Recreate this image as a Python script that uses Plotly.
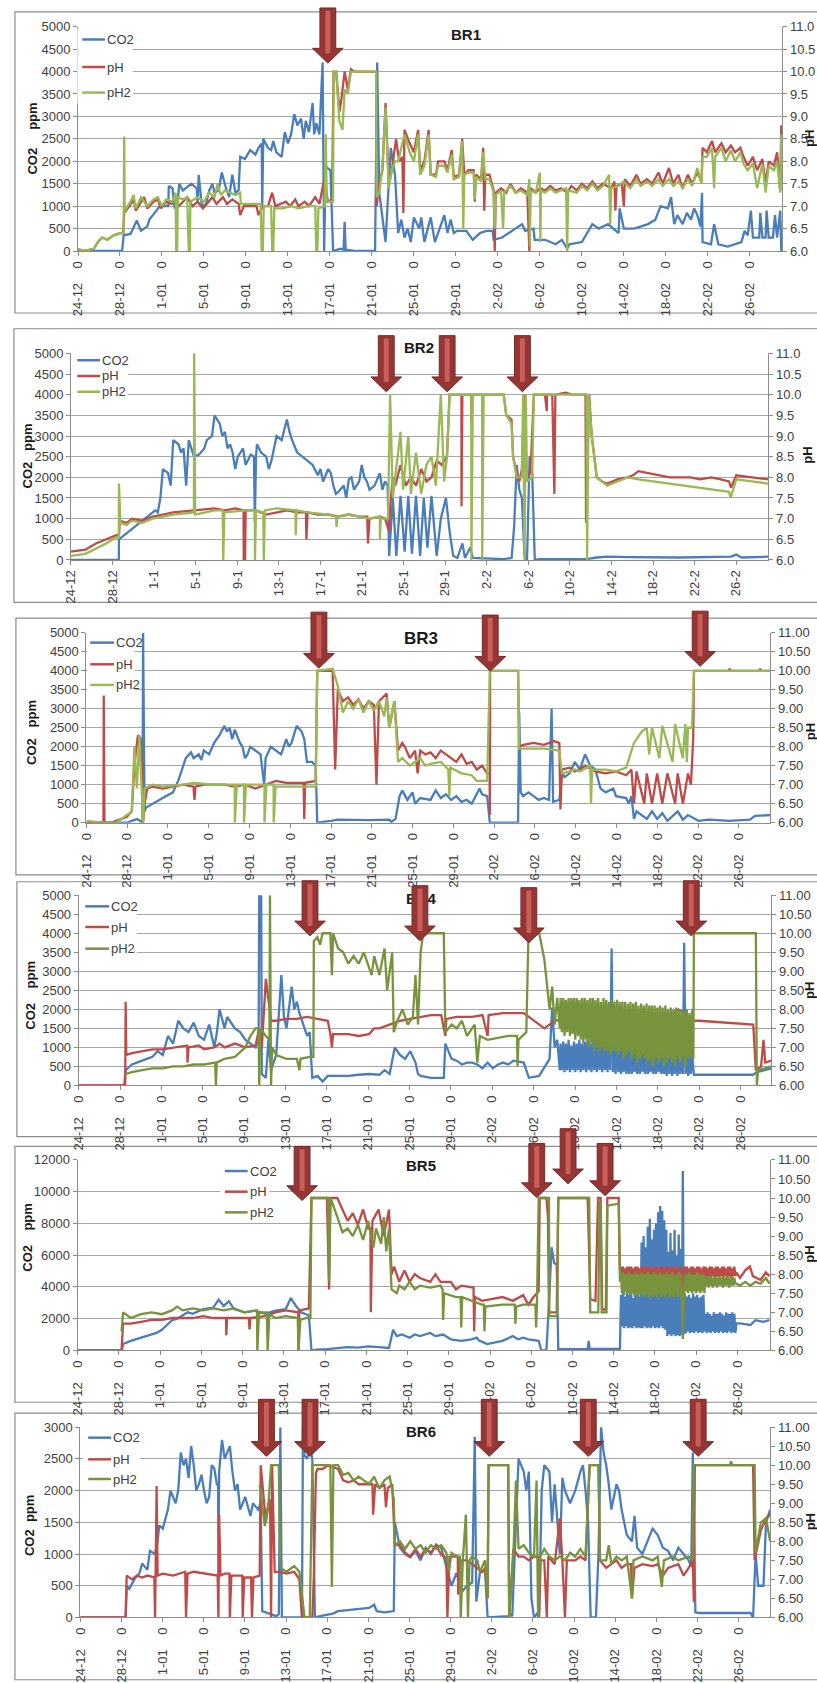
import plotly.graph_objects as go

W, H = 817, 1683
NB = "\u00a0"
FONT = "Liberation Sans Narrow, Arial Narrow, Liberation Sans, Arial, sans-serif"
TXT = "#404040"
GRID = "#A6A6A6"
AXC = "#8C8C8C"
BLUE = "#4A7EBB"
RED = "#BE4B48"
GREEN_L = "#98B954"
GREEN_D = "#77933C"
LW = 2.3

TICK_DAYS = [0, 4, 8, 12, 16, 20, 24, 28, 32, 36, 40, 44, 48, 52, 56, 60, 64]
DATES_A = ["24-12", "28-12", "1-01", "5-01", "9-01", "13-01", "17-01", "21-01", "25-01",
           "29-01", "2-02", "6-02", "10-02", "14-02", "18-02", "22-02", "26-02"]
DATES_B = ["24-12", "28-12", "1-1", "5-1", "9-1", "13-1", "17-1", "21-1", "25-1",
           "29-1", "2-2", "6-2", "10-2", "14-2", "18-2", "22-2", "26-2"]

# ---------------- BR1 ----------------
BR1_CO2 = [(0,0),(4.2,0),(4.35,350),(5,380),(5.6,680),(6,450),(6.6,550),(6.8,700),(7.3,850),(7.8,1000),(8.6,1000),(8.65,1450),(9.0,1400),(9.2,950),(9.5,1100),(9.65,1500),(10.0,1350),(10.8,1500),(11.3,1400),(11.4,1100),(11.5,1700),(11.8,1000),(12.2,1050),(12.5,1350),(12.8,1500),(13.0,1300),(13.4,1350),(13.7,1750),(14.1,1400),(14.4,1200),(14.7,1700),(15.0,1300),(15.3,1350),(15.45,2100),(15.9,2050),(16.4,2250),(16.9,2150),(17.2,2300),(17.5,2400),(17.55,1000),(17.65,2500),(18.1,2300),(18.4,2250),(18.6,2450),(18.9,2200),(19.4,2100),(19.7,2650),(20.0,2400),(20.3,2600),(20.6,3050),(20.9,2800),(21.25,2950),(21.5,2500),(21.7,2900),(22.0,2650),(22.35,3300),(22.5,2600),(22.7,2850),(23.0,2600),(23.3,4200),(23.45,0),(23.6,1900),(23.75,1850),(24.05,1800),(24.3,0),(25.0,50),(25.3,30),(25.4,650),(25.5,30),(26.5,0),(28.3,0),(28.5,4200),(28.7,1300),(29.0,700),(29.3,200),(29.6,1500),(29.8,2300),(30.2,1700),(30.5,400),(30.8,700),(31.1,300),(31.4,500),(31.7,200),(32.0,750),(32.5,500),(32.7,750),(33.0,200),(33.6,750),(34.0,200),(34.9,800),(35.2,400),(35.5,700),(35.8,400),(36.1,450),(37.0,450),(37.3,350),(37.6,250),(38.3,400),(38.9,450),(39.5,450),(39.6,250),(40.4,300),(41.4,450),(42.3,600),(42.6,450),(43.4,500),(43.5,250),(44.5,250),(45.5,150),(46.1,250),(46.6,50),(46.8,150),(48.0,200),(49.0,600),(49.6,500),(50.5,600),(51.5,400),(51.6,950),(52.0,500),(53.0,500),(54.3,600),(55.0,700),(55.5,1000),(56.2,950),(56.5,1200),(56.8,600),(57.1,800),(57.6,600),(58.0,850),(58.4,700),(58.7,950),(59.0,800),(59.3,550),(59.45,1300),(59.5,200),(60.3,150),(60.6,600),(61.0,150),(61.9,100),(62.6,150),(63.2,200),(63.5,450),(63.8,350),(64.1,900),(64.3,300),(64.9,300),(65.0,850),(65.2,300),(65.5,300),(65.6,900),(65.8,300),(66.2,300),(66.4,800),(66.6,300),(66.9,900),(67.0,0)]
BR1_PH = [(0,6.05),(0.5,6.0),(1.5,6.05),(1.9,6.2),(2.3,6.3),(2.8,6.25),(3.4,6.35),(4.0,6.4),(4.3,6.4),(4.4,6.85),(4.9,7.0),(5.3,7.15),(5.5,6.9),(6.0,7.1),(6.3,7.2),(6.6,6.95),(7.2,7.1),(7.6,7.15),(7.9,6.95),(8.4,7.1),(8.9,7.05),(9.3,7.15),(9.6,7.0),(10.0,7.1),(10.4,7.2),(10.9,7.0),(11.4,7.1),(11.9,6.95),(12.4,7.1),(12.8,7.2),(13.2,7.05),(13.8,7.2),(14.2,7.05),(14.7,7.15),(15.3,7.05),(15.45,6.8),(15.8,7.0),(16.5,7.0),(17.0,7.0),(17.2,6.8),(17.6,7.0),(18.1,7.0),(18.5,7.3),(18.8,7.0),(19.3,7.05),(19.8,7.1),(20.2,7.0),(20.7,7.15),(21.0,7.0),(21.6,7.1),(22.0,7.0),(22.6,7.2),(23.0,7.05),(23.5,7.65),(23.8,7.1),(24.2,7.15),(24.35,10.0),(24.6,10.0),(24.9,9.1),(25.1,9.4),(25.4,10.0),(25.7,9.6),(26.0,10.05),(26.3,10.0),(28.4,10.0),(28.45,7.0),(28.7,7.5),(29.0,7.8),(29.3,9.3),(29.6,7.5),(29.9,7.8),(30.3,8.5),(30.6,8.0),(30.9,8.1),(31.0,6.85),(31.1,8.7),(31.6,8.4),(32.0,8.2),(32.4,8.7),(32.6,7.8),(33.0,8.0),(33.4,8.7),(33.6,7.7),(34.1,7.7),(34.3,8.0),(34.9,8.0),(35.2,7.8),(35.6,8.25),(35.8,7.65),(36.3,7.7),(36.6,8.5),(36.8,7.7),(37.2,7.8),(37.7,7.8),(37.8,7.1),(37.9,7.7),(38.4,7.6),(38.6,8.3),(38.7,6.9),(38.8,7.7),(39.2,7.7),(39.6,7.35),(39.7,6.0),(39.8,7.3),(40.3,7.4),(40.8,7.3),(41.2,7.5),(41.7,7.3),(42.2,7.4),(42.8,7.3),(43.0,6.0),(43.1,7.4),(43.6,7.3),(44.0,7.4),(44.5,7.35),(45.0,7.45),(45.5,7.35),(46.0,7.4),(46.6,7.3),(47.0,7.45),(47.5,7.35),(48.0,7.5),(48.5,7.4),(49.0,7.55),(49.5,7.4),(50.0,7.5),(50.8,7.4),(51.1,7.55),(51.2,6.9),(51.3,7.45),(51.8,7.5),(52.0,7.0),(52.1,7.6),(52.6,7.45),(53.2,7.7),(53.6,7.5),(54.2,7.6),(54.7,7.5),(55.3,7.75),(55.7,7.5),(56.3,7.85),(56.7,7.5),(57.2,7.7),(57.6,7.4),(58.1,7.7),(58.5,7.5),(59.0,7.75),(59.4,7.55),(59.5,8.3),(59.9,8.2),(60.4,8.45),(60.7,8.2),(61.3,8.4),(61.7,8.2),(62.2,8.35),(62.6,8.2),(63.1,8.3),(63.4,8.1),(63.8,7.9),(64.3,8.1),(64.7,7.8),(65.2,8.05),(65.5,7.5),(65.8,8.0),(66.3,7.9),(66.6,8.2),(66.9,7.35),(67.0,8.8)]
BR1_PH2 = [(0,6.05),(0.5,6.0),(1.5,6.05),(1.9,6.2),(2.3,6.3),(2.8,6.25),(3.4,6.35),(4.0,6.4),(4.35,6.4),(4.4,8.55),(4.45,6.9),(5.0,7.1),(5.3,7.25),(5.5,6.95),(6.0,7.2),(6.3,7.1),(6.6,7.0),(7.2,7.15),(7.6,7.2),(8.0,7.0),(8.4,7.15),(9.0,7.1),(9.3,7.3),(9.35,6.0),(9.45,6.0),(9.5,7.2),(10.0,7.15),(10.4,7.2),(10.55,6.0),(10.65,6.0),(10.7,7.1),(11.4,7.2),(12.0,7.1),(12.5,7.3),(13.0,7.2),(13.3,7.5),(13.6,7.25),(14.0,7.35),(14.5,7.3),(15.0,7.25),(15.45,7.3),(15.5,7.05),(16.5,7.05),(17.4,7.05),(17.5,6.0),(17.6,6.0),(17.7,7.0),(18.4,7.0),(18.5,6.0),(18.6,6.0),(18.7,6.95),(19.5,6.95),(20.3,7.0),(21.0,6.95),(22.0,7.0),(22.6,7.0),(22.7,6.0),(22.8,6.0),(22.9,6.95),(23.5,7.0),(23.6,8.6),(23.7,7.1),(24.3,7.1),(24.35,10.0),(24.6,10.0),(24.9,8.9),(25.2,8.7),(25.4,9.6),(25.7,9.5),(26.0,10.0),(28.4,10.0),(28.45,7.2),(28.7,7.3),(29.0,7.9),(29.3,9.2),(29.6,7.4),(29.9,7.8),(30.2,8.0),(30.5,8.0),(31.1,8.6),(31.6,8.2),(32.0,8.0),(32.4,8.6),(32.6,7.7),(33.0,7.9),(33.4,8.6),(33.6,7.7),(34.1,7.65),(34.3,7.9),(34.9,7.9),(35.2,7.75),(35.6,8.15),(35.8,7.6),(36.3,7.65),(36.6,8.45),(36.7,6.5),(36.8,7.7),(37.2,7.75),(37.7,7.75),(37.8,7.15),(37.9,7.65),(38.4,7.55),(38.6,8.2),(38.8,7.6),(39.2,7.6),(39.6,7.3),(39.7,6.5),(39.8,7.25),(40.3,7.35),(40.5,6.5),(40.6,7.3),(41.2,7.45),(41.7,7.3),(42.2,7.35),(42.8,7.25),(43.0,7.6),(43.05,6.1),(43.1,7.35),(43.6,7.3),(44.0,7.75),(44.05,6.2),(44.1,7.35),(44.5,7.3),(45.0,7.4),(45.5,7.3),(46.0,7.35),(46.5,7.4),(46.6,6.0),(46.7,7.35),(47.5,7.3),(48.0,7.45),(48.5,7.35),(49.0,7.5),(49.5,7.35),(50.0,7.45),(50.6,7.7),(50.7,6.6),(50.8,7.4),(51.5,7.45),(52.0,7.55),(52.6,7.4),(53.2,7.6),(53.6,7.45),(54.2,7.55),(54.7,7.45),(55.3,7.6),(55.7,7.45),(56.3,7.6),(56.7,7.45),(57.2,7.55),(57.6,7.4),(58.1,7.6),(58.5,7.45),(59.0,7.85),(59.4,7.5),(59.5,8.1),(59.9,8.1),(60.4,8.3),(60.6,7.4),(60.7,8.1),(61.3,8.3),(61.7,8.0),(62.2,8.25),(62.6,8.0),(63.1,8.2),(63.4,7.95),(63.8,7.8),(64.3,7.95),(64.7,7.4),(65.2,7.95),(65.5,7.3),(65.8,7.9),(66.3,7.8),(66.6,8.0),(66.9,7.3),(67.0,8.6)]

# ---------------- BR2 ----------------
BR2_CO2 = [(0,0),(4.6,0),(4.62,500),(5.37,650),(6.36,850),(7.1,1000),(8.1,1200),(8.35,1150),(8.6,1500),(8.84,2200),(9.34,2100),(9.59,1800),(9.84,2900),(10.34,2800),(10.6,2600),(10.83,2700),(11.08,1800),(11.33,2900),(11.83,2500),(12.33,2550),(12.82,2700),(13.07,2900),(13.57,3000),(13.81,3500),(14.31,3300),(14.56,3000),(14.81,3100),(15.06,2700),(15.31,2800),(15.55,2600),(15.8,2200),(16.05,2500),(16.55,2700),(16.8,2300),(17.29,2550),(17.6,2500),(17.69,900),(17.8,2500),(17.89,2800),(18.29,2600),(18.78,2500),(19.03,2200),(19.28,2400),(19.78,3000),(20.27,2900),(20.77,3400),(21.02,3100),(21.27,2900),(21.76,2600),(22.26,2500),(22.76,2400),(23.25,2300),(23.75,2050),(24.0,2200),(24.25,1900),(24.75,2200),(25.0,2100),(25.24,1800),(25.49,1600),(25.74,1650),(26.24,1800),(26.48,1500),(26.73,1950),(26.98,2000),(27.23,1700),(27.73,1900),(27.97,2300),(28.22,2000),(28.47,1900),(28.72,1700),(29.21,1800),(29.71,2100),(29.96,1700),(30.21,1900),(30.46,1800),(30.61,100),(30.96,1500),(31.3,100),(31.7,1550),(32.1,200),(32.45,1550),(32.8,150),(33.19,1550),(33.59,100),(33.94,1500),(34.29,300),(34.68,1550),(35.18,100),(35.58,1000),(36.07,1500),(36.42,700),(36.77,100),(37.17,50),(37.66,400),(37.9,50),(38.41,300),(38.66,50),(41.63,20),(42.39,50),(42.63,800),(42.88,2300),(43.13,1700),(43.38,1500),(43.63,100),(43.87,0),(44.12,2500),(44.37,2100),(44.62,0),(45.1,20),(49.6,20),(50.58,60),(51.6,80),(53.6,70),(58.6,60),(63.5,80),(64.0,130),(64.5,60),(67.1,80)]
BR2_PH = [(0,6.2),(1.39,6.25),(2.39,6.4),(3.38,6.5),(4.37,6.6),(4.62,6.6),(4.7,6.95),(5.37,6.9),(5.86,7.0),(6.86,6.95),(7.85,7.05),(8.84,7.1),(9.84,7.15),(11.83,7.2),(13.81,7.25),(14.81,7.2),(15.8,7.25),(16.6,7.2),(16.62,6.0),(16.75,6.0),(16.8,7.2),(17.79,7.2),(18.78,7.1),(20.77,7.2),(21.76,7.15),(22.6,7.15),(22.65,6.5),(22.76,7.15),(23.75,7.1),(24.75,7.1),(25.74,7.05),(26.73,7.1),(27.73,7.05),(28.5,7.05),(28.57,6.4),(28.72,7.0),(29.71,7.05),(30.21,7.0),(30.6,6.7),(30.71,7.3),(30.96,8.0),(31.2,7.8),(31.7,8.3),(32.2,7.8),(32.7,8.0),(33.19,7.8),(33.7,8.2),(34.2,7.9),(34.68,8.0),(35.18,8.4),(35.67,8.3),(36.17,8.5),(36.42,10.0),(37.56,10.0),(37.57,7.3),(37.65,10.0),(38.5,10.0),(38.51,9.35),(38.6,10.0),(41.63,10.0),(41.88,9.5),(42.38,9.4),(42.53,8.5),(42.88,8.1),(43.13,7.9),(43.38,8.2),(43.6,10.0),(43.7,8.0),(44.2,8.1),(44.53,10.0),(45.6,10.0),(45.77,9.6),(45.8,10.0),(46.3,10.0),(46.5,7.6),(46.6,10.0),(47.6,10.05),(48.2,10.0),(49.5,10.0),(49.55,6.9),(49.85,10.0),(50.1,9.0),(50.58,8.0),(51.08,7.9),(51.58,7.85),(52.07,7.9),(52.57,7.95),(53.57,8.0),(54.06,8.05),(54.6,8.15),(55.6,8.1),(56.6,8.05),(57.6,8.0),(58.6,8.0),(59.6,8.0),(60.5,7.95),(61.6,8.0),(62.5,7.95),(63.3,7.9),(63.5,7.75),(64.0,8.05),(65.5,8.0),(67.1,7.95)]
BR2_PH2 = [(0,6.1),(1.39,6.15),(3.38,6.4),(4.37,6.55),(4.6,6.55),(4.62,7.85),(4.75,6.9),(5.37,6.85),(5.86,6.95),(6.86,6.9),(7.85,7.0),(8.84,7.05),(9.84,7.1),(11.83,7.15),(11.85,11.0),(11.95,7.1),(13.81,7.2),(14.6,7.2),(14.65,6.0),(14.75,7.15),(16.8,7.2),(17.69,7.2),(17.7,6.0),(17.8,7.2),(18.5,7.15),(18.55,6.0),(18.65,7.2),(19.78,7.25),(21.6,7.2),(21.62,6.6),(21.7,7.2),(22.76,7.15),(24.75,7.1),(25.5,7.05),(25.55,6.8),(25.6,7.05),(26.73,7.1),(27.73,7.05),(28.72,7.0),(29.71,7.05),(29.72,6.5),(29.8,7.0),(30.5,7.0),(30.7,10.0),(30.96,7.5),(31.7,9.1),(31.95,7.7),(32.45,9.0),(32.7,7.6),(33.19,8.6),(33.69,7.6),(34.19,8.3),(34.68,8.5),(35.1,7.8),(35.58,10.0),(35.9,7.9),(36.17,8.5),(36.42,10.0),(38.51,10.0),(38.52,6.0),(38.66,10.0),(39.55,10.0),(39.56,6.0),(39.7,10.0),(41.63,10.0),(41.88,9.5),(42.38,9.3),(42.53,8.5),(42.88,8.0),(43.38,8.0),(43.5,10.0),(43.63,6.0),(43.75,10.0),(43.87,7.9),(44.37,8.0),(44.53,10.0),(49.6,10.0),(49.65,6.0),(49.8,10.0),(50.1,9.0),(50.58,8.0),(51.08,7.9),(51.58,7.8),(52.57,7.9),(53.57,8.0),(54.6,7.95),(56.1,7.9),(57.6,7.85),(58.6,7.8),(60.1,7.75),(61.6,7.7),(63.3,7.65),(63.45,7.5),(64.0,7.95),(65.5,7.9),(67.1,7.85)]

# ---------------- BR3 ----------------
BR3_CO2 = [(0,0),(4.0,0),(4.45,50),(4.95,100),(5.25,50),(5.5,0),(5.56,5000),(5.7,300),(5.86,400),(6.47,500),(7.48,650),(8.49,800),(9.0,1100),(9.75,1700),(10.26,1850),(10.51,1700),(11.02,1800),(11.27,1650),(11.52,1900),(12.03,1800),(12.53,2100),(13.04,2300),(13.54,2550),(13.79,2400),(14.05,2500),(14.3,2200),(14.55,2450),(15.06,2100),(15.31,2000),(15.56,1700),(15.81,1800),(16.07,2000),(16.57,1900),(17.08,1800),(17.43,1000),(17.58,1700),(18.09,2000),(18.6,1900),(19.1,1800),(19.6,2200),(19.86,2000),(20.11,2100),(20.62,2550),(21.12,2400),(21.37,2200),(21.63,1600),(22.13,1600),(22.49,1500),(22.64,0),(24.0,50),(24.66,80),(27.7,70),(29.71,80),(29.9,20),(30.32,100),(30.72,700),(30.98,850),(31.48,600),(31.99,800),(32.24,500),(32.74,650),(33.75,600),(34.26,850),(34.76,650),(35.27,750),(35.78,600),(36.28,700),(36.79,550),(37.29,600),(37.8,500),(38.3,750),(38.56,900),(38.81,750),(39.31,700),(39.57,0),(42.34,0),(42.45,2900),(42.6,800),(42.85,700),(43.36,800),(43.86,700),(44.37,600),(44.87,650),(45.38,600),(45.63,3000),(45.78,550),(46.39,600),(46.64,1300),(46.9,1200),(47.4,1300),(47.9,1600),(48.41,1400),(48.91,1800),(49.42,1500),(49.92,1400),(50.43,900),(50.93,800),(51.69,900),(51.95,700),(52.95,650),(53.2,500),(53.46,700),(53.71,100),(53.96,300),(54.97,100),(55.48,300),(55.99,100),(56.49,250),(56.99,50),(58.0,300),(58.51,80),(59.01,200),(60.03,50),(61.04,80),(63.06,50),(65.08,80),(65.59,180),(66.6,200),(67.1,200)]
BR3_PH = [(0,6.0),(1.67,6.0),(1.7,9.35),(1.77,6.0),(2.43,6.0),(2.93,6.05),(3.94,6.15),(4.45,6.3),(4.7,7.5),(5.05,8.3),(5.36,8.2),(5.56,6.0),(5.71,6.5),(5.96,6.9),(6.47,6.95),(7.48,6.9),(8.49,6.95),(9.5,7.0),(10.5,6.95),(10.6,6.6),(10.7,6.95),(11.52,7.0),(12.53,7.0),(13.54,7.0),(14.55,6.95),(15.56,7.0),(16.57,6.9),(17.58,7.0),(18.6,7.1),(19.6,7.05),(20.62,7.05),(21.3,7.05),(21.37,6.1),(21.45,7.05),(22.49,7.1),(22.64,10.0),(24.15,10.0),(24.4,7.4),(24.66,9.5),(25.16,9.2),(25.67,9.3),(26.17,9.1),(26.68,9.25),(27.18,9.0),(27.69,9.2),(28.19,9.1),(28.45,7.0),(28.7,9.2),(29.45,9.4),(29.71,8.5),(30.21,9.2),(30.57,7.9),(30.98,8.1),(31.23,8.0),(31.73,7.7),(32.24,7.9),(32.49,7.3),(32.74,7.9),(33.25,7.8),(33.75,7.85),(34.26,7.7),(34.76,7.9),(35.27,7.8),(35.78,7.7),(36.28,7.6),(36.79,7.8),(37.29,7.55),(37.8,7.6),(38.3,7.4),(38.81,7.5),(39.31,7.3),(39.55,7.3),(39.57,6.2),(39.6,10.0),(42.34,10.0),(42.45,8.0),(42.85,8.05),(43.86,8.1),(44.87,8.05),(45.88,8.15),(46.39,8.1),(46.5,6.35),(46.64,7.4),(47.4,7.45),(47.9,7.35),(48.41,7.4),(48.91,7.5),(49.92,7.35),(50.93,7.3),(51.95,7.35),(52.95,7.25),(53.46,7.4),(53.71,6.5),(53.96,7.35),(54.72,6.5),(54.97,7.3),(55.48,6.5),(55.99,7.3),(56.49,6.5),(56.99,7.3),(57.75,6.5),(58.0,7.3),(58.51,6.5),(59.01,7.3),(59.3,7.0),(59.52,8.2),(59.6,10.0),(63.0,10.0),(63.1,10.05),(63.2,10.0),(66.0,10.0),(66.1,10.05),(66.2,10.0),(67.1,10.0)]
BR3_PH2 = [(0,6.05),(1.67,6.0),(2.93,6.0),(4.45,6.3),(4.7,8.0),(4.95,6.9),(5.2,8.3),(5.56,6.0),(5.71,6.9),(6.47,7.0),(7.48,6.95),(9.5,7.0),(10.51,7.05),(12.53,7.0),(14.55,7.0),(14.56,6.0),(14.75,7.0),(15.45,7.0),(15.46,6.0),(15.65,7.0),(16.57,7.0),(17.46,7.0),(17.47,6.0),(17.65,7.0),(18.36,7.0),(18.37,6.0),(18.56,6.95),(20.62,6.95),(22.49,6.95),(22.64,10.0),(24.15,10.05),(24.66,9.6),(25.16,8.9),(25.67,9.2),(26.17,9.0),(26.68,9.25),(27.18,8.9),(27.69,9.2),(28.19,8.95),(28.7,9.2),(29.21,8.8),(29.45,9.3),(29.71,8.5),(30.21,9.2),(30.57,7.6),(30.98,7.7),(31.73,7.5),(32.24,7.6),(32.74,7.7),(33.25,7.5),(33.75,7.55),(34.76,7.6),(35.5,7.4),(35.6,6.7),(35.7,7.45),(36.79,7.3),(37.8,7.25),(38.3,7.1),(39.31,7.1),(39.57,10.0),(42.34,10.0),(42.45,7.95),(43.36,7.95),(44.87,7.95),(46.39,7.9),(46.64,7.3),(47.4,7.35),(47.9,7.4),(48.41,7.35),(49.42,7.5),(49.5,6.5),(49.6,7.4),(50.93,7.4),(51.95,7.35),(52.95,7.45),(53.71,8.1),(54.47,8.4),(54.97,8.5),(55.2,7.8),(55.48,8.5),(56.2,7.7),(56.49,8.55),(57.5,7.6),(57.75,8.6),(58.5,7.7),(58.75,8.6),(58.9,7.6),(59.01,8.5),(59.4,8.5),(59.6,10.0),(67.1,10.0)]

# ---------------- BR4 ----------------
BR4_CO2 = [(0,0),(4.4,0),(4.54,400),(5.14,550),(6.13,650),(7.13,750),(7.63,900),(8.13,800),(8.63,1300),(9.13,1100),(9.63,1700),(10.12,1500),(10.62,1400),(11.12,1650),(11.62,1300),(12.12,1200),(12.62,1600),(13.12,1000),(13.37,1400),(13.62,2000),(14.11,1500),(14.36,1800),(14.61,1700),(15.11,1500),(15.61,1400),(16.11,1200),(16.61,1100),(17.11,1000),(17.4,1200),(17.46,5000),(17.65,5000),(17.71,300),(18.1,200),(18.35,1200),(18.6,400),(19.1,800),(19.6,2900),(19.85,1800),(20.1,1500),(20.6,2600),(20.85,2000),(21.1,2200),(21.35,1900),(21.6,1700),(21.85,1500),(22.09,1300),(22.34,1400),(22.59,200),(23.09,250),(23.59,100),(24.09,250),(25.09,250),(26.08,250),(27.08,280),(28.08,300),(29.08,280),(29.58,400),(30.07,300),(30.57,1000),(31.07,800),(31.57,700),(32.07,900),(32.57,600),(32.82,300),(33.07,250),(34.06,200),(35.31,200),(35.46,1100),(36.06,700),(36.56,650),(37.06,550),(37.56,600),(38.05,600),(38.55,550),(39.05,450),(39.55,600),(40.05,450),(40.55,550),(41.05,600),(41.55,550),(42.04,650),(43.04,600),(43.54,200),(44.54,250),(45.29,600),(45.54,700),(45.79,2050),(46.03,1000),(46.28,1200),(46.53,400),(59.5,280),(60.0,280),(65.2,280),(65.6,350),(66.2,400),(67.0,450)]
# dense logger section, sampled every 0.13 day from day 46.6
BR4_CO2_DENSE = (46.6, 0.13, [1100,400,1150,350,1100,400,1200,350,1050,400,1150,350,1100,400,1200,350,1100,400,1150,350,
                              1200,400,1100,350,1250,400,1200,350,1300,400,1150,350,1200,400,1100,350,1250,400,3600,350,
                              1150,300,1100,350,1050,300,1100,350,1000,300,1050,300,950,300,1000,350,1100,300,950,300,
                              1000,350,900,300,1050,300,950,350,1000,300,900,300,950,350,1000,300,900,300,950,250,
                              900,300,950,250,900,300,850,250,900,300,950,300,3750,300,900,250,850,300,800])
BR4_PH = [(0,6.0),(4.5,6.0),(4.54,8.2),(4.6,6.8),(5.14,6.85),(6.13,6.9),(7.13,6.95),(8.13,6.95),(9.13,7.0),(10.12,7.05),(10.5,7.05),(10.52,6.6),(10.62,7.0),(11.62,7.05),(12.12,6.95),(13.12,7.0),(13.62,7.1),(14.11,7.0),(15.11,7.1),(16.11,7.0),(17.11,7.05),(17.46,7.5),(17.71,7.0),(18.1,8.8),(18.6,7.7),(19.1,7.7),(20.1,7.75),(21.1,7.75),(22.09,7.8),(23.09,7.75),(24.09,7.7),(24.34,7.35),(24.49,7.0),(24.6,7.35),(26.08,7.35),(27.08,7.3),(28.08,7.35),(28.58,7.5),(29.08,7.5),(30.07,7.6),(31.07,7.7),(32.07,7.75),(33.07,7.8),(34.06,7.85),(35.06,7.85),(35.46,7.3),(35.56,7.75),(36.56,7.8),(38.05,7.8),(39.05,7.85),(39.55,7.3),(39.65,7.85),(41.05,7.9),(42.54,7.9),(43.04,7.9),(43.54,7.8),(44.54,7.6),(45.04,7.5),(45.54,7.6),(46.03,7.7),(47.0,7.75),(48.0,7.8),(50.5,7.75),(51.0,7.8),(53.0,7.8),(55.0,7.85),(57.5,7.9),(58.0,8.0),(59.5,7.7),(60.0,7.7),(63.0,7.65),(65.24,7.6),(65.49,6.4),(66.0,6.5),(66.23,7.2),(66.4,6.6),(67.0,6.65)]
BR4_PH2 = [(4.5,6.3),(5.14,6.35),(6.13,6.4),(7.13,6.45),(8.13,6.45),(9.13,6.5),(10.12,6.5),(11.12,6.55),(12.12,6.55),(13.12,6.6),(13.2,6.6),(13.27,6.0),(13.35,6.6),(14.11,6.7),(15.11,6.75),(16.11,7.0),(16.61,7.3),(17.11,7.5),(17.4,7.5),(17.46,6.0),(17.55,7.5),(18.1,7.3),(18.45,7.2),(18.5,11.0),(18.6,6.0),(18.7,7.0),(19.1,6.8),(20.1,6.7),(21.1,6.7),(21.35,6.4),(21.45,6.7),(22.34,6.75),(22.7,6.75),(22.74,9.8),(23.09,9.9),(23.34,9.7),(23.59,10.0),(24.34,10.0),(24.49,8.9),(24.6,10.0),(25.09,9.6),(25.58,9.5),(26.08,9.2),(26.58,9.4),(27.08,9.2),(27.58,9.5),(28.08,9.1),(28.33,8.9),(28.58,9.4),(29.08,8.9),(29.58,9.6),(29.83,8.5),(30.32,9.5),(30.47,7.4),(30.82,7.7),(31.32,8.0),(31.82,7.6),(32.32,7.8),(32.57,8.9),(32.82,7.6),(33.07,9.5),(33.32,10.0),(35.31,10.0),(35.46,7.4),(36.06,7.6),(36.56,7.5),(37.06,7.7),(37.56,7.3),(38.05,7.5),(38.3,7.6),(38.55,6.6),(38.8,7.3),(39.55,7.2),(40.55,7.25),(41.55,7.3),(42.4,7.3),(42.44,6.5),(42.54,7.2),(43.29,7.4),(43.5,10.0),(44.54,10.0),(45.04,9.3),(45.29,8.6),(45.54,8.0),(45.79,8.6),(46.03,7.6),(46.28,8.3),(46.53,7.5),(59.45,6.7),(59.5,10.0),(65.49,10.0),(65.59,6.0),(65.7,6.4),(67.0,6.5)]
BR4_PH2_DENSE = (46.6, 0.13, [8.3,7.4,8.3,7.3,8.25,7.4,8.3,7.3,8.3,7.35,8.3,7.2,8.3,7.3,8.25,7.2,8.3,7.1,8.3,7.2,
                              8.25,7.0,8.3,7.1,8.3,6.9,8.25,7.0,8.3,6.9,8.2,7.0,8.3,6.9,8.25,6.9,8.2,6.8,8.25,6.9,
                              8.2,6.9,8.25,6.8,8.2,6.9,8.2,6.7,8.2,6.8,8.15,6.9,8.2,6.7,8.15,6.8,8.2,6.6,8.1,6.7,
                              8.15,6.8,8.1,6.7,8.15,6.6,8.1,6.7,8.1,6.5,8.1,6.7,8.05,6.6,8.1,6.7,8.05,6.5,8.1,6.6,
                              8.0,6.7,8.05,6.6,8.0,6.5,8.05,6.7,8.0,6.6,8.0,6.7,7.95,6.5,8.0,6.7,7.9,6.8,8.0])

# ---------------- BR5 ----------------
BR5_CO2 = [(0,0),(4.3,0),(4.41,400),(5.16,600),(6.16,800),(7.16,1000),(7.66,1100),(8.16,1300),(8.66,1600),(9.16,1900),(9.66,2000),(10.17,2200),(10.67,2400),(11.17,2300),(12.17,2600),(13.17,2700),(13.67,3200),(14.17,2800),(14.67,3100),(15.17,2600),(16.17,2400),(17.18,2500),(18.18,2300),(19.18,2500),(20.18,2600),(20.68,3300),(21.18,2800),(21.68,2400),(22.43,2200),(22.68,0),(23.18,50),(24.18,80),(25.19,150),(26.19,200),(27.19,180),(28.19,250),(29.19,200),(30.2,150),(30.6,1300),(30.95,900),(31.45,1000),(32.2,800),(32.7,1000),(33.2,900),(34.2,1100),(34.7,900),(35.45,1000),(36.2,700),(37.21,600),(38.21,700),(38.71,800),(38.96,600),(39.21,550),(39.71,400),(41.21,600),(42.21,900),(42.71,700),(43.21,800),(43.72,700),(44.72,600),(44.97,0),(45.47,0),(45.72,3000),(45.97,6500),(46.22,5500),(46.47,5400),(46.62,0),(46.72,100),(48.22,80),(49.47,100),(49.57,600),(49.67,100),(52.48,100),(52.6,100),(63.9,1700),(64.25,1700),(65.25,1600),(65.75,1900),(66.5,1800),(67.1,1900)]
BR5_CO2_DENSE = (52.7, 0.1, [3500,1500,3700,1400,3400,1500,3800,1400,3500,1450,3700,1400,3300,1500,3800,1400,3600,1450,3400,1400,
                             6800,1400,7200,1500,6500,1400,7800,1450,8300,1400,7000,1500,7600,1400,8000,1450,8700,1400,9100,1500,
                             8800,1400,8200,1300,7600,900,6200,1000,7400,900,6300,1000,7600,900,6000,950,7300,900,6400,1000,
                             11300,1000,3600,1100,3400,1200,3500,1100,3300,1150,3600,1100,3400,1200,3500,1100,3300,1150,3400,1100,
                             3500,1200,2300,1100,2400,1150,2300,1100,2200,1200,2400,1100,2300,1150,2300,1100,2400,1200,2300,1100,
                             2200,1150,2400,1100,2300,1200,2300,1100,2400,1150,2300,1100])
BR5_PH = [(0,6.0),(4.26,6.0),(4.41,6.7),(5.16,6.7),(6.16,6.75),(7.16,6.8),(8.16,6.8),(9.16,6.85),(10.17,6.85),(11.17,6.85),(12.17,6.9),(13.17,6.85),(14.17,6.85),(14.4,6.85),(14.42,6.4),(14.5,6.85),(16.17,6.85),(16.6,6.85),(16.68,6.55),(16.75,6.85),(18.18,6.9),(19.18,7.0),(20.18,7.05),(21.18,7.0),(21.4,7.0),(21.43,6.0),(21.5,7.05),(22.43,7.1),(22.68,10.0),(24.18,10.0),(24.39,7.6),(24.5,10.0),(25.19,10.0),(25.69,9.7),(26.19,9.4),(26.69,9.6),(27.19,9.3),(27.69,9.7),(28.19,9.2),(28.4,9.2),(28.44,7.0),(28.6,9.4),(29.19,9.7),(29.69,9.0),(30.2,9.7),(30.45,8.0),(30.7,8.2),(31.2,7.8),(31.7,8.1),(32.2,7.8),(32.7,8.0),(33.2,7.9),(34.2,7.8),(34.7,8.0),(35.2,7.8),(36.2,7.8),(36.7,7.6),(37.21,7.7),(38.21,7.65),(38.4,7.65),(38.46,6.5),(38.55,7.4),(39.21,7.3),(40.21,7.35),(41.21,7.4),(42.21,7.3),(43.21,7.45),(43.72,7.2),(44.22,7.4),(44.72,7.55),(44.82,10.0),(45.47,10.0),(45.62,9.5),(45.72,7.0),(46.47,7.0),(46.62,10.0),(49.47,10.0),(49.57,9.0),(49.72,7.35),(50.23,7.3),(50.48,10.0),(50.73,10.0),(50.88,7.1),(51.23,7.05),(51.38,10.0),(52.48,10.0),(52.6,8.1),(63.9,8.05),(64.25,7.9),(64.75,8.1),(65.2,8.2),(65.5,7.95),(66.25,7.85),(66.75,8.05),(67.1,7.95)]
BR5_PH_DENSE = (52.7, 0.1, [8.2,7.95,8.2,7.9,8.15,7.95,8.2,7.95,8.2,7.9,8.2,7.95,8.15,7.9,8.2,7.95,8.2,7.9,8.15,7.95,
                            8.2,7.9,8.2,7.95,8.15,7.9,8.2,7.95,8.2,7.9,8.15,7.95,8.2,7.9,8.2,7.95,8.15,7.9,8.2,7.95,
                            8.2,7.9,8.15,7.95,8.2,7.9,8.2,7.95,8.15,7.9,8.2,7.95,8.2,7.9,8.15,7.95,8.2,7.9,8.2,7.95,
                            6.6,7.95,8.2,7.9,8.2,7.95,8.15,7.9,8.2,7.95,8.2,7.9,8.15,7.95,8.2,7.9,8.2,7.95,8.15,7.9,
                            8.2,7.95,8.2,7.9,8.15,7.95,8.2,7.9,8.2,7.95,8.15,7.9,8.2,7.95,8.2,7.9,8.15,7.95,8.2,7.9,
                            8.2,7.95,8.15,7.9,8.2,7.95,8.2,7.9,8.15,7.95,8.2,7.95])
BR5_PH2 = [(4.26,6.5),(4.41,7.0),(5.16,6.85),(6.16,6.95),(7.16,7.0),(8.16,6.95),(9.16,7.05),(9.66,7.15),(10.17,7.05),(11.17,7.1),(12.17,7.05),(13.17,7.1),(14.17,7.05),(15.17,7.1),(16.17,7.0),(17.4,7.05),(17.43,6.0),(17.6,7.0),(18.35,7.0),(18.43,6.0),(18.6,6.95),(19.18,6.85),(20.18,6.9),(21.35,6.85),(21.43,6.0),(21.6,6.8),(22.2,6.85),(22.58,6.85),(22.68,10.0),(24.29,10.0),(24.39,7.8),(24.54,10.0),(25.19,9.5),(25.69,9.1),(26.19,9.2),(26.69,9.0),(27.19,9.3),(27.69,8.9),(28.19,9.4),(28.69,8.7),(28.94,9.2),(29.44,8.8),(29.69,9.5),(29.94,8.6),(30.2,9.2),(30.45,7.6),(30.95,7.5),(31.2,7.7),(31.7,7.6),(32.2,7.8),(32.7,7.6),(33.2,7.7),(34.2,7.65),(35.2,7.7),(35.4,7.6),(35.45,6.8),(35.55,7.5),(36.7,7.4),(37.15,7.4),(37.21,6.6),(37.3,7.4),(38.21,7.3),(39.21,7.2),(39.4,7.2),(39.46,6.5),(39.55,7.15),(41.21,7.2),(42.21,7.2),(42.4,7.2),(42.46,6.7),(42.55,7.15),(43.21,7.2),(44.22,7.2),(44.4,7.2),(44.47,6.6),(44.55,7.2),(44.72,10.0),(45.72,10.0),(45.75,6.9),(46.52,6.9),(46.62,10.0),(49.62,10.0),(49.72,7.0),(50.5,7.0),(50.63,9.9),(50.73,9.9),(50.83,7.0),(51.3,7.0),(51.38,9.8),(52.48,9.85),(52.6,7.8),(63.9,7.75),(64.25,7.7),(64.75,7.8),(65.25,7.7),(65.75,7.8),(66.25,7.75),(66.75,7.9),(67.1,7.75)]
BR5_PH2_DENSE = (52.7, 0.1, [8.0,7.5,8.05,7.45,8.0,7.55,8.0,7.5,8.05,7.45,8.0,7.5,8.0,7.45,8.05,7.5,8.0,7.4,8.0,7.5,
                             8.05,7.45,8.0,7.4,8.0,7.5,8.05,7.4,8.0,7.45,8.0,7.4,8.05,7.45,8.0,7.4,8.0,7.5,8.05,7.4,
                             8.0,7.45,8.0,7.4,8.05,7.5,8.0,7.4,8.0,7.45,8.05,7.4,8.0,7.5,8.0,7.4,8.05,7.45,8.0,7.4,
                             6.3,7.5,8.0,7.55,8.0,7.5,8.05,7.55,8.0,7.5,8.0,7.55,8.0,7.5,8.05,7.55,8.0,7.5,8.0,7.55,
                             8.0,7.5,7.95,7.7,7.95,7.65,7.95,7.7,7.9,7.65,7.95,7.7,7.95,7.65,7.9,7.7,7.95,7.7,7.9,7.65,
                             7.95,7.7,7.9,7.7,7.95,7.65,7.9,7.7,7.95,7.7,7.9,7.75])

# ---------------- BR6 ----------------
BR6_CO2 = [(0,0),(4.41,0),(4.51,500),(4.76,450),(5.26,600),(5.76,700),(6.02,850),(6.52,750),(6.77,1050),(7.27,1000),(7.52,1200),(7.67,1450),(8.02,1400),(8.52,1700),(8.77,2000),(9.02,1900),(9.27,1800),(9.52,2000),(9.77,2600),(10.03,2400),(10.28,2500),(10.53,2200),(10.78,2700),(11.03,2400),(11.28,2000),(11.53,2100),(11.78,2250),(12.03,2000),(12.28,1800),(12.53,1900),(12.78,2400),(13.03,2350),(13.28,2100),(13.4,2100),(13.43,600),(13.5,2300),(13.78,2800),(14.04,2500),(14.54,2700),(14.79,2300),(15.04,2000),(15.29,2100),(15.54,1700),(15.79,1800),(16.04,1900),(16.54,1600),(16.79,1800),(17.29,1700),(17.54,1800),(17.69,100),(18.05,80),(18.55,50),(19.05,20),(19.3,50),(19.45,3000),(19.6,0),(21.55,0),(21.65,3000),(21.8,2550),(22.06,2500),(22.31,2700),(22.56,2500),(22.81,0),(23.56,30),(24.06,50),(24.56,60),(25.06,100),(26.07,120),(27.07,140),(28.07,150),(28.57,200),(28.82,100),(29.57,80),(30.48,100),(30.58,1500),(31.08,1100),(31.58,1000),(32.08,950),(32.58,1050),(33.08,900),(33.58,1100),(34.09,1000),(34.59,1150),(35.09,1100),(35.59,800),(36.09,500),(36.59,700),(37.09,400),(37.59,500),(38.1,550),(38.35,2850),(38.5,250),(38.85,700),(39.35,750),(39.6,0),(41.6,20),(41.85,50),(42.0,20),(42.36,1500),(42.61,2500),(43.11,2300),(43.36,2000),(43.61,2300),(43.86,300),(44.11,0),(44.61,100),(44.86,2000),(45.11,2400),(45.61,2300),(45.86,1500),(46.12,2100),(46.62,1000),(46.87,2200),(47.12,2000),(47.62,1800),(48.12,2000),(48.62,2300),(48.87,2400),(49.12,2000),(49.37,1500),(49.62,0),(50.13,0),(50.38,1000),(50.63,3000),(50.88,2600),(51.13,2400),(51.38,2100),(51.63,1700),(52.13,2100),(52.38,2000),(52.63,1700),(52.88,1500),(53.13,1300),(53.63,1200),(53.88,1600),(54.14,1100),(54.64,1000),(55.14,1200),(55.64,1400),(56.14,1300),(56.64,1100),(57.14,1050),(57.64,900),(58.15,1100),(58.65,1000),(59.15,900),(59.4,800),(59.55,2600),(59.8,80),(60.15,70),(65.16,70),(65.41,0),(65.66,1000),(65.91,500),(66.42,500),(66.67,1500),(67.07,1700)]
BR6_PH = [(0,6.0),(4.41,6.0),(4.51,7.1),(5.01,7.0),(5.51,7.1),(6.02,7.05),(6.52,7.1),(7.02,7.05),(7.2,7.05),(7.27,6.0),(7.42,9.45),(7.52,7.1),(8.02,7.15),(9.02,7.1),(10.03,7.2),(10.2,7.2),(10.28,6.0),(10.43,7.15),(11.03,7.2),(12.03,7.15),(13.03,7.1),(13.35,7.1),(13.43,6.0),(13.5,8.7),(13.63,7.1),(14.04,7.15),(14.5,7.15),(14.54,6.0),(14.69,7.1),(15.54,7.1),(15.75,7.1),(15.79,6.0),(15.94,7.05),(16.6,7.05),(16.69,6.0),(16.84,7.05),(17.44,7.1),(17.54,10.0),(18.05,8.5),(18.3,9.0),(18.45,9.1),(18.55,6.0),(18.65,10.0),(18.9,7.2),(19.3,7.2),(20.05,7.15),(20.8,7.2),(21.3,7.0),(21.55,6.0),(22.56,6.0),(22.71,7.1),(22.91,9.8),(23.06,9.9),(23.56,9.9),(24.06,10.0),(25.06,9.9),(25.56,9.6),(26.07,9.55),(26.57,9.6),(27.07,9.5),(28.07,9.5),(28.4,9.5),(28.47,8.7),(28.67,9.5),(29.07,9.4),(29.57,9.5),(29.72,8.9),(29.9,9.4),(30.33,9.5),(30.58,7.9),(31.08,7.9),(31.58,7.7),(32.08,7.6),(32.58,7.8),(33.08,7.6),(33.58,7.8),(34.09,7.7),(34.59,7.9),(35.09,7.65),(35.59,7.55),(35.69,6.0),(35.89,7.6),(36.59,7.6),(36.7,7.6),(36.74,6.6),(36.99,7.5),(37.59,7.5),(38.1,7.4),(38.6,7.3),(39.1,7.2),(39.35,7.3),(39.6,6.5),(39.7,10.0),(41.6,10.0),(41.7,6.0),(42.11,7.8),(42.61,7.6),(43.11,7.6),(43.61,7.5),(44.11,7.6),(44.55,7.6),(44.61,6.0),(44.75,7.5),(45.11,7.5),(45.36,6.0),(45.5,7.6),(46.12,7.4),(46.62,8.6),(46.87,7.5),(47.12,6.0),(47.3,7.5),(48.12,7.5),(48.62,7.6),(49.12,7.5),(49.52,10.0),(50.38,10.0),(50.53,7.5),(51.13,7.3),(51.63,7.4),(52.13,7.5),(52.63,7.3),(53.13,7.4),(53.55,7.4),(53.63,6.5),(53.88,7.3),(54.64,7.4),(55.64,7.35),(56.14,7.4),(56.64,7.1),(57.14,7.3),(58.15,7.4),(58.65,7.1),(59.15,7.3),(59.55,7.5),(59.65,6.4),(59.75,10.0),(65.41,10.0),(65.56,7.5),(66.17,8.3),(66.67,8.6),(67.07,8.7)]
BR6_PH2 = [(17.44,9.5),(17.94,8.4),(18.3,9.0),(18.55,10.0),(19.3,10.0),(19.45,7.3),(20.05,7.2),(20.8,7.35),(21.3,7.2),(21.55,6.5),(21.8,6.0),(22.31,6.0),(22.56,10.0),(24.31,10.0),(24.46,6.8),(24.61,10.0),(25.06,10.0),(25.56,9.75),(26.07,9.8),(26.57,9.6),(27.07,9.7),(28.07,9.5),(28.57,9.7),(29.07,9.4),(29.57,9.6),(30.08,9.7),(30.48,9.1),(30.58,7.9),(31.08,8.0),(31.58,7.8),(32.08,8.0),(32.58,7.8),(33.08,7.9),(33.58,7.7),(34.09,7.9),(34.59,7.8),(35.09,7.9),(35.59,7.7),(35.84,7.2),(36.09,7.7),(36.59,7.6),(36.9,7.6),(36.99,6.0),(37.19,7.5),(37.49,8.7),(37.69,6.0),(37.84,7.5),(38.1,7.6),(38.6,7.5),(38.85,7.2),(39.35,7.5),(39.6,6.5),(39.7,10.0),(41.6,10.0),(41.7,6.0),(42.11,7.7),(42.36,9.6),(42.61,7.8),(43.11,7.9),(43.61,7.7),(44.11,7.6),(44.36,9.6),(44.51,6.0),(44.71,7.6),(45.11,7.8),(45.61,7.6),(46.12,7.5),(46.62,7.6),(47.12,7.5),(47.62,7.7),(48.12,7.6),(48.62,7.8),(49.12,7.6),(49.52,10.0),(50.38,10.0),(50.53,7.5),(51.13,7.5),(51.38,7.9),(51.63,7.4),(52.13,7.6),(52.63,7.5),(53.13,7.6),(53.63,6.5),(53.78,7.5),(54.64,7.6),(55.64,7.5),(56.14,7.6),(56.54,6.8),(56.74,7.5),(57.64,7.6),(58.15,7.5),(59.15,7.6),(59.55,7.5),(59.65,10.0),(63.16,10.0),(63.26,10.1),(63.4,10.0),(65.56,10.0),(65.66,7.7),(66.17,8.5),(66.67,8.6),(67.07,8.0)]


def merge(pairs, dense=None):
    """Combine point pairs with an evenly-sampled logger section."""
    pts = list(pairs)
    if dense is not None:
        start, step, vals = dense
        pts += [(start + k * step, v) for k, v in enumerate(vals)]
    pts.sort(key=lambda p: p[0])
    return [p[0] for p in pts], [p[1] for p in pts]


# ---------------- panel layout (pixel geometry) ----------------
PANELS = [
    dict(name="BR1", co2=(BR1_CO2, None), ph=(BR1_PH, None), ph2=(BR1_PH2, None), ymax=5000, dy=500, rfmt=".1f",
         plot=(70.7, 782, 20, 248), box=(7, 5, 311), xmax=67.1, dates=DATES_A, zero=True,
         green=GREEN_L, title=(463, 28, 15), leg=(75, 98, [33, 61, 87], 70, 126, 22, 98),
         ylab=(25, 134, 5), rlab=(810, 134), arrows=[(323, 1, 57)]),
    dict(name="BR2", co2=(BR2_CO2, None), ph=(BR2_PH, None), ph2=(BR2_PH2, None), ymax=5000, dy=500, rfmt=".1f",
         plot=(63.6, 768, 352, 562), box=(6, 327, 605), xmax=67.1, dates=DATES_B, zero=False,
         green=GREEN_L, title=(415, 346, 15), leg=(70, 93, [359, 375, 391], 64, 121, 353, 398),
         ylab=(20, 456, 3), rlab=(808, 456), arrows=[(382, 334, 391), (443.5, 334, 391), (519.5, 334, 391)]),
    dict(name="BR3", co2=(BR3_CO2, None), ph=(BR3_PH, None), ph2=(BR3_PH2, None), ymax=5000, dy=500, rfmt=".2f",
         plot=(79.2, 770, 636, 829), box=(8, 621, 882), xmax=67.1, dates=DATES_A, zero=True,
         green=GREEN_L, title=(417, 642, 17), leg=(83, 107, [646, 668, 689], 80, 128, 638, 698),
         ylab=(23, 737, 3), rlab=(810, 737), arrows=[(314, 615, 672), (487, 618, 675), (699, 614, 670)]),
    dict(name="BR4", co2=(BR4_CO2, BR4_CO2_DENSE), ph=(BR4_PH, None), ph2=(BR4_PH2, BR4_PH2_DENSE), ymax=5000, dy=500, rfmt=".2f",
         plot=(71.4, 771, 902.7, 1096), box=(9, 889, 1148), xmax=67.0, dates=DATES_A, zero=True,
         green=GREEN_D, title=(417, 908, 15), leg=(78, 102, [914, 935, 957], 72, 130, 905, 966),
         ylab=(23, 1004, 4), rlab=(810, 1000), arrows=[(305, 888, 944), (416, 893, 949), (526, 895, 951), (690, 888, 944)]),
    dict(name="BR5", co2=(BR5_CO2, BR5_CO2_DENSE), ph=(BR5_PH, BR5_PH_DENSE), ph2=(BR5_PH2, BR5_PH2_DENSE), ymax=12000, dy=2000, rfmt=".2f",
         plot=(70.3, 770, 1171.7, 1365.3), box=(7, 1158, 1418), xmax=67.2, dates=DATES_A, zero=True,
         green=GREEN_D, title=(417, 1177, 15), leg=(219, 242, [1183, 1204, 1225], 214, 264, 1174, 1235),
         ylab=(20, 1250, 4), rlab=(810, 1268), arrows=[(297, 1158, 1213), (534, 1155, 1210), (565.6, 1140, 1196), (603, 1155, 1208)]),
    dict(name="BR6", co2=(BR6_CO2, None), ph=(BR6_PH, None), ph2=(BR6_PH2, None), ymax=3000, dy=500, rfmt=".2f",
         plot=(73, 770, 1443.3, 1636.7), box=(7, 1429, 1700), xmax=67.1, dates=DATES_A, zero=True,
         green=GREEN_D, title=(417, 1448, 15), leg=(81, 104, [1454, 1476, 1496], 76, 133, 1445, 1505),
         ylab=(21, 1543, 2), rlab=(810, 1540), arrows=[(261, 1415, 1473), (305, 1415, 1473), (486, 1415, 1473), (586, 1415, 1473), (697, 1415, 1473)]),
]


def fx(p):
    return p / W


def fy(p):
    return 1 - p / H


fig = go.Figure()
layout = dict(width=W, height=H, autosize=False, margin=dict(l=0, r=0, t=0, b=0),
              paper_bgcolor="white", plot_bgcolor="rgba(0,0,0,0)", showlegend=False)
shapes, annos = [], []
tickfont = dict(family=FONT, size=13, color=TXT)

for i, P in enumerate(PANELS, start=1):
    xname = "x" if i == 1 else f"x{i}"
    ylname = "y" if i == 1 else f"y{2 * i - 1}"
    yrname = f"y{2 * i}"
    L, R, T, B = P["plot"]
    xd = [fx(L), fx(R)]
    yd = [fy(B), fy(T)]

    cx_, cy_ = merge(*P["co2"])
    hx_, hy_ = merge(*P["ph"])
    gx_, gy_ = merge(*P["ph2"])
    fig.add_trace(go.Scatter(x=cx_, y=cy_, xaxis=xname, yaxis=ylname, mode="lines", name="CO2",
                             line=dict(color=BLUE, width=LW), hoverinfo="skip"))
    fig.add_trace(go.Scatter(x=hx_, y=hy_, xaxis=xname, yaxis=yrname, mode="lines", name="pH",
                             line=dict(color=RED, width=LW), hoverinfo="skip"))
    fig.add_trace(go.Scatter(x=gx_, y=gy_, xaxis=xname, yaxis=yrname, mode="lines", name="pH2",
                             line=dict(color=P["green"], width=LW), hoverinfo="skip"))

    if P["zero"]:
        ttext = [d + NB * 4 + "0" for d in P["dates"]]
    else:
        ttext = list(P["dates"])

    xkey = "xaxis" if i == 1 else f"xaxis{i}"
    ylkey = "yaxis" if i == 1 else f"yaxis{2 * i - 1}"
    yrkey = f"yaxis{2 * i}"
    layout[xkey] = dict(domain=xd, anchor=ylname, range=[0, P["xmax"]], tickmode="array",
                        tickvals=TICK_DAYS, ticktext=ttext, tickangle=-90, showline=True,
                        linecolor=AXC, linewidth=1, showgrid=False, zeroline=False,
                        ticks="outside", ticklen=4, tickcolor=AXC, tickfont=tickfont)
    layout[ylkey] = dict(domain=yd, anchor=xname, range=[0, P["ymax"]], tickmode="linear",
                         tick0=0, dtick=P["dy"], showgrid=True, gridcolor=GRID, gridwidth=1,
                         showline=True, linecolor=AXC, zeroline=False, ticks="outside",
                         ticklen=4, tickcolor=AXC, tickfont=tickfont, tickformat="d")
    layout[yrkey] = dict(domain=yd, anchor=xname, overlaying=ylname, side="right",
                         range=[6, 11], tickmode="linear", tick0=6, dtick=0.5,
                         tickformat=P["rfmt"], showgrid=False, showline=True, linecolor=AXC,
                         zeroline=False, ticks="outside", ticklen=4, tickcolor=AXC,
                         tickfont=tickfont)

    # panel frame
    bl, bt, bb = P["box"]
    shapes.append(dict(type="rect", xref="paper", yref="paper", x0=fx(bl), x1=fx(W + 20),
                       y0=fy(bb), y1=fy(bt), line=dict(color="#8C8C8C", width=1.2),
                       fillcolor="rgba(0,0,0,0)", layer="below"))

    # legend (white box + line keys + labels)
    lx0, lx1, lys, bx0, bx1, by0, by1 = P["leg"]
    shapes.append(dict(type="rect", xref="paper", yref="paper", x0=fx(bx0), x1=fx(bx1),
                       y0=fy(by1), y1=fy(by0), line=dict(width=0), fillcolor="white",
                       layer="above"))
    for lab, col, ly in zip(["CO2", "pH", "pH2"], [BLUE, RED, P["green"]], lys):
        shapes.append(dict(type="line", xref="paper", yref="paper", x0=fx(lx0), x1=fx(lx1),
                           y0=fy(ly), y1=fy(ly), line=dict(color=col, width=2.5),
                           layer="above"))
        annos.append(dict(xref="paper", yref="paper", x=fx(lx1), y=fy(ly), text=lab,
                          showarrow=False, xanchor="left", yanchor="middle",
                          font=dict(family=FONT, size=13, color=TXT)))

    # title
    tx, ty, tsz = P["title"]
    if P["name"] == "BR4":
        # drawn in the plot layer so that the event arrow can cover it, as in the source
        fig.add_trace(go.Scatter(x=[(tx - L) / (R - L) * P["xmax"]],
                                 y=[(B - ty) / (B - T) * P["ymax"]],
                                 xaxis=xname, yaxis=ylname, mode="text",
                                 text=["<b>" + P["name"] + "</b>"], textposition="middle center",
                                 textfont=dict(family=FONT, size=tsz, color="#1a1a1a"),
                                 cliponaxis=False, hoverinfo="skip"))
    else:
        annos.append(dict(xref="paper", yref="paper", x=fx(tx), y=fy(ty),
                          text="<b>" + P["name"] + "</b>", showarrow=False,
                          xanchor="center", yanchor="middle",
                          font=dict(family=FONT, size=tsz, color="#1a1a1a")))

    # axis titles
    ax_, ay_, nsp = P["ylab"]
    annos.append(dict(xref="paper", yref="paper", x=fx(ax_), y=fy(ay_),
                      text="<b>CO2" + NB * nsp + "ppm</b>", showarrow=False, textangle=-90,
                      xanchor="center", yanchor="middle",
                      font=dict(family=FONT, size=13, color="#1a1a1a")))
    rx, ry = P["rlab"]
    annos.append(dict(xref="paper", yref="paper", x=fx(rx), y=fy(ry), text="<b>pH</b>",
                      showarrow=False, textangle=-90, xanchor="center", yanchor="middle",
                      font=dict(family=FONT, size=13, color="#1a1a1a")))

    # event arrows
    for cx, top, tip in P["arrows"]:
        sw, hw, hh = 8, 15.5, 15
        pts = [(cx - sw, top), (cx + sw, top), (cx + sw, tip - hh), (cx + hw, tip - hh),
               (cx, tip), (cx - hw, tip - hh), (cx - sw, tip - hh)]
        path = "M " + " L ".join(f"{fx(a):.5f},{fy(b):.5f}" for a, b in pts) + " Z"
        shapes.append(dict(type="path", xref="paper", yref="paper", path=path,
                           fillcolor="#943634", line=dict(color="#7A2826", width=1),
                           layer="above"))
        shapes.append(dict(type="rect", xref="paper", yref="paper",
                           x0=fx(cx - 2.5), x1=fx(cx + 2.5), y0=fy(tip - hh + 5), y1=fy(top + 3),
                           fillcolor="#C95E5B", line=dict(width=0), layer="above"))

layout["shapes"] = shapes
layout["annotations"] = annos
fig.update_layout(**layout)
fig.write_html("out.html", include_plotlyjs=True, full_html=True,
               config={"displayModeBar": False})
